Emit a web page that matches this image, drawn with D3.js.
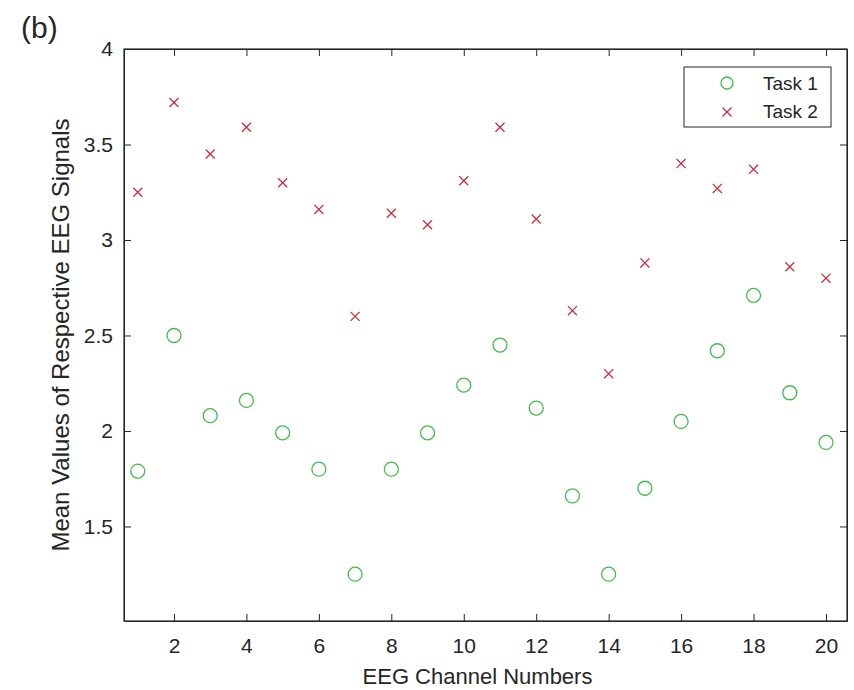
<!DOCTYPE html>
<html>
<head>
<meta charset="utf-8">
<script src="https://cdn.jsdelivr.net/npm/d3@7"></script>
<style>
body { margin: 0; background: #fff; }
text { font-family: "Liberation Sans", Arial, sans-serif; fill: #262626; }
.axis path, .axis line { stroke: #262626; }
</style>
</head>
<body>
<script>
// data
const channels = [1,2,3,4,5,6,7,8,9,10,11,12,13,14,15,16,17,18,19,20];
const task1 = [1.79,2.50,2.08,2.16,1.99,1.80,1.25,1.80,1.99,2.24,2.45,2.12,1.66,1.25,1.70,2.05,2.42,2.71,2.20,1.94];
const task2 = [3.25,3.72,3.45,3.59,3.30,3.16,2.60,3.14,3.08,3.31,3.59,3.11,2.63,2.30,2.88,3.40,3.27,3.37,2.86,2.80];
const xTicks = [2,4,6,8,10,12,14,16,18,20];
const yTicks = [1.5,2,2.5,3,3.5,4];
const seriesNames = ['Task 1', 'Task 2'];

var margin = {top: 49, bottom: 69, left: 124, right: 7},
    width = 854 - margin.left - margin.right,
    height = 690 - margin.top - margin.bottom;

var svg = d3.select("body").append("svg")
    .attr("width", 854)
    .attr("height", 690);

const g = svg.append('g')
    .attr('transform', `translate(${margin.left},${margin.top})`);

const xScale = d3.scaleLinear()
    .domain([0.62, 20.58])
    .range([0, width]);

const yScale = d3.scaleLinear()
    .domain([1.005, 4])
    .range([height, 0]);

const fmt = d3.format('~g');

// axes, ticks inward like matlab
g.append('g').attr('class', 'axis')
    .attr('transform', `translate(0,${height})`)
    .call(d3.axisBottom(xScale).tickValues(xTicks).tickFormat(fmt).tickSizeInner(-7).tickSizeOuter(0).tickPadding(17))
    .attr('font-size', 21);

g.append('g').attr('class', 'axis')
    .call(d3.axisTop(xScale).tickValues(xTicks).tickSizeInner(-7).tickSizeOuter(0).tickFormat(''));

g.append('g').attr('class', 'axis')
    .call(d3.axisLeft(yScale).tickValues(yTicks).tickFormat(fmt).tickSizeInner(-7).tickSizeOuter(0).tickPadding(11))
    .attr('font-size', 21);

g.append('g').attr('class', 'axis')
    .attr('transform', `translate(${width},0)`)
    .call(d3.axisRight(yScale).tickValues(yTicks).tickSizeInner(-7).tickSizeOuter(0).tickFormat(''));

g.selectAll('.axis text').style('fill', '#262626');

// box
g.append('rect')
    .attr('width', width)
    .attr('height', height)
    .attr('fill', 'none')
    .attr('stroke', '#262626')
    .attr('stroke-width', 1.2);

// task 1 circles
g.selectAll('.t1').data(channels).enter().append('circle')
    .attr('class', 't1')
    .attr('cx', (d, i) => xScale(d))
    .attr('cy', (d, i) => yScale(task1[i]))
    .attr('r', 7)
    .attr('fill', 'none')
    .attr('stroke', '#3fbf4a')
    .attr('stroke-width', 1.3);

// task 2 crosses
const cross = d3.symbol().type(d3.symbolX).size(55);
g.selectAll('.t2').data(channels).enter().append('path')
    .attr('class', 't2')
    .attr('d', cross)
    .attr('transform', (d, i) => `translate(${xScale(d)},${yScale(task2[i])})`)
    .attr('stroke', '#cc2e3c')
    .attr('stroke-width', 1.3);

// axis labels
g.append('text')
    .attr('x', width / 2 - 8)
    .attr('y', height + 63)
    .attr('text-anchor', 'middle')
    .attr('font-size', 22)
    .text('EEG Channel Numbers');

g.append('text')
    .attr('transform', 'rotate(-90)')
    .attr('x', -height / 2)
    .attr('y', -55)
    .attr('text-anchor', 'middle')
    .attr('font-size', 24)
    .text('Mean Values of Respective EEG Signals');

// panel label
svg.append('text')
    .attr('x', 21)
    .attr('y', 38)
    .attr('font-size', 30)
    .text('(b)');

// legend
const legend = svg.append('g').attr('transform', 'translate(684,67)');
legend.append('rect')
    .attr('width', 147)
    .attr('height', 60)
    .attr('fill', '#fff')
    .attr('stroke', '#262626')
    .attr('stroke-width', 1);

legend.append('circle')
    .attr('cx', 43).attr('cy', 16).attr('r', 6)
    .attr('fill', 'none').attr('stroke', '#3fbf4a').attr('stroke-width', 1.3);

legend.append('path')
    .attr('d', cross)
    .attr('transform', 'translate(43,45)')
    .attr('stroke', '#cc2e3c').attr('stroke-width', 1.3);

legend.selectAll('.lt').data(seriesNames).enter().append('text')
    .attr('class', 'lt')
    .attr('x', 79)
    .attr('y', (d, i) => 23 + i * 28)
    .attr('font-size', 19)
    .text(d => d);
</script>
</body>
</html>
